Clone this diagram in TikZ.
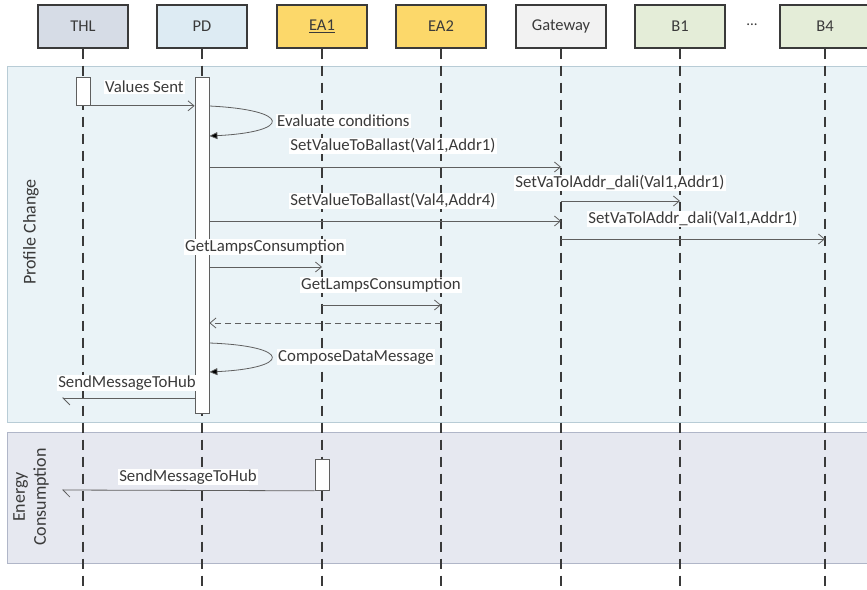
\documentclass[tikz,border=0pt]{standalone}
\usepackage{fontspec}
\setmainfont{Carlito}
\usetikzlibrary{arrows.meta}

\definecolor{ink}{HTML}{3A3A3A}
\definecolor{wire}{HTML}{5F5F5F}
\definecolor{thlfill}{HTML}{D6DCE6}
\definecolor{pdfill}{HTML}{DDEBF3}
\definecolor{eafill}{HTML}{FCD86A}
\definecolor{gwfill}{HTML}{F2F2F2}
\definecolor{bfill}{HTML}{E4EDD8}
\definecolor{pcfill}{HTML}{EAF3F7}
\definecolor{pcline}{HTML}{B8CCD6}
\definecolor{ecfill}{HTML}{E6E8F0}
\definecolor{ecline}{HTML}{B0B6C8}

\tikzset{
  actor/.style={draw=ink, line width=1.4pt, minimum width=90pt, minimum height=43pt,
    font=\fontsize{16.5}{19}\selectfont, text=ink},
  lifeline/.style={ink, line width=1.6pt, dash pattern=on 10pt off 7pt},
  bar/.style={draw=wire, fill=white, line width=0.8pt, minimum width=14pt, inner sep=0pt},
  msg/.style={wire, line width=0.8pt, -{Straight Barb[length=6pt,width=10pt]}},
  reply/.style={msg, dash pattern=on 6pt off 4pt},
  selfmsg/.style={wire, line width=0.8pt, -{Triangle[length=8pt,width=7pt,fill=black]}},
  lost/.style={wire, line width=0.8pt, -{Straight Barb[left,length=7pt,width=14pt]}},
  lbl/.style={fill=white, inner sep=1pt, text=ink, font=\fontsize{16.8}{18}\selectfont},
  frametitle/.style={text=ink, font=\fontsize{18}{21}\selectfont, rotate=90, align=center}
}

\begin{document}
\begin{tikzpicture}[x=1pt,y=-1pt]
  \useasboundingbox (0,0) rectangle (867,589);

  % interaction frames
  \draw[pcline, fill=pcfill, line width=1pt] (7,66) rectangle (880,422);
  \draw[ecline, fill=ecfill, line width=1pt] (7,432) rectangle (880,563);
  \node[frametitle] (pc) at (31,232) {Profile Change};
  \node[frametitle] (ec) at (31,497) {Energy\\Consumption};

  % lifelines
  \node[actor, fill=thlfill] (thl) at (83,26.5) {THL};
  \node[actor, fill=pdfill] (pd) at (202,26.5) {PD};
  \node[actor, fill=eafill] (ea1) at (322,26.5) {\underline{EA1}};
  \node[actor, fill=eafill] (ea2) at (441,26.5) {EA2};
  \node[actor, fill=gwfill] (gw) at (561,26.5) {Gateway};
  \node[actor, fill=bfill] (b1) at (680,26.5) {B1};
  \node[actor, fill=bfill] (b4) at (825,26.5) {B4};
  \node[text=ink, font=\fontsize{15}{17}\selectfont] (dots) at (752,25) {...};
  \foreach \a in {thl,pd,ea1,ea2,gw,b1,b4}
    \draw[lifeline] (\a.south) -- (\a |- 0,595);

  % activations
  \node[bar, minimum height=28pt, anchor=north] (thlbar) at (thl |- 0,77) {};
  \node[bar, minimum height=336pt, anchor=north] (pdbar) at (pd |- 0,77) {};
  \node[bar, minimum height=31pt, anchor=north] (ea1bar) at (ea1 |- 0,459) {};

  % profile change
  \draw[msg] (thlbar.south east) -- (pdbar.west |- thlbar.south east);
  \node[lbl, anchor=west] (m1) at (104,87) {Values Sent};

  \draw[selfmsg] (pdbar.east |- 0,106) .. controls (292,110) and (292,132) .. (pdbar.east |- 0,136);
  \node[lbl, anchor=west] (m2) at (276,121) {Evaluate conditions};

  \draw[msg] (pdbar.east |- 0,167) -- (gw |- 0,167);
  \node[lbl] (m3) at (393,146) {SetValueToBallast(Val1,Addr1)};
  \draw[msg] (gw |- 0,201) -- (b1 |- 0,201);
  \node[lbl] (m4) at (620,183) {SetVaTolAddr\_dali(Val1,Addr1)};
  \draw[msg] (pdbar.east |- 0,221) -- (gw |- 0,221);
  \node[lbl] (m5) at (393,201) {SetValueToBallast(Val4,Addr4)};
  \draw[msg] (gw |- 0,239) -- (b4 |- 0,239);
  \node[lbl] (m6) at (693,219) {SetVaTolAddr\_dali(Val1,Addr1)};

  \draw[msg] (pdbar.east |- 0,267) -- (ea1 |- 0,267);
  \node[lbl] (m7) at (265,247) {GetLampsConsumption};
  \draw[msg] (ea1 |- 0,305) -- (ea2 |- 0,305);
  \node[lbl] (m8) at (381,285) {GetLampsConsumption};
  \draw[reply] (ea2 |- 0,323) -- (pdbar.east |- 0,323);

  \draw[selfmsg] (pdbar.east |- 0,343) .. controls (292,346) and (292,368) .. (pdbar.east |- 0,372);
  \node[lbl, anchor=west] (m9) at (277,357) {ComposeDataMessage};

  \coordinate (hub1) at (62,398);
  \draw[lost] (pdbar.west |- hub1) -- (hub1);
  \node[lbl] (m10) at (127,383) {SendMessageToHub};

  % energy consumption
  \coordinate (hub2) at (62,490);
  \draw[lost] (ea1bar.south west) -- (hub2);
  \node[lbl] (m11) at (188,477) {SendMessageToHub};
\end{tikzpicture}
\end{document}
